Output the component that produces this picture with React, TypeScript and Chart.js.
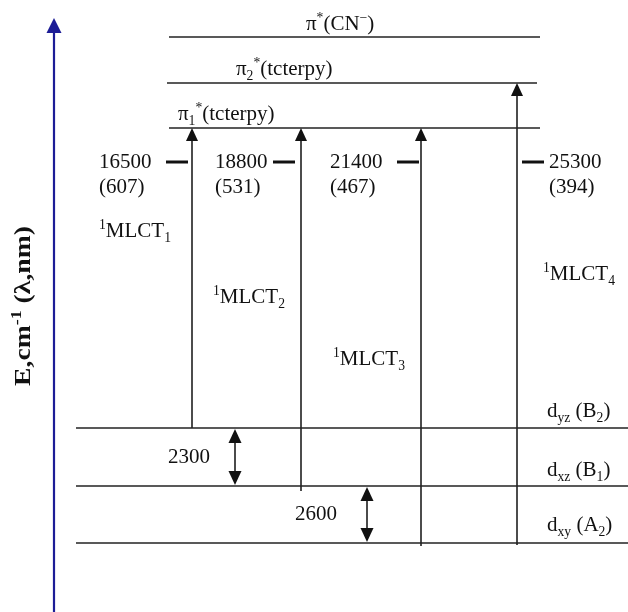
import React, { useEffect, useRef } from 'react';
import { Chart, registerables } from 'chart.js';

Chart.register(...registerables);

// ---- data (schematic energy-level diagram, arbitrary vertical units) ----
const levelNames = ['π^*(CN^−)', 'π_2^*(tcterpy)', 'π_1^*(tcterpy)', 'd_{yz} (B_2)', 'd_{xz} (B_1)', 'd_{xy} (A_2)'];
const levelEnergy = [575, 529, 484, 184, 126, 69];
const transitionNames = ['^1MLCT_1', '^1MLCT_2', '^1MLCT_3', '^1MLCT_4'];
const transitionWavenumbers = [16500, 18800, 21400, 25300];
const transitionWavelengths = [607, 531, 467, 394];
const transitionFrom = [3, 4, 5, 5];
const transitionTo = [2, 2, 2, 1];
const splittingValues = [2300, 2600];
const splittingLevels = [[3, 4], [4, 5]];
const axisTitle = 'E,cm^{-1} (λ,nm)';

// ---- layout (diagram coordinates) ----
const levelSpan = [[169, 540], [167, 537], [169, 540], [76, 628], [76, 628], [76, 628]];
const levelLabelPos = [[306, 582], [236, 537], [178, 492], [547, 195], [547, 136], [547, 81]];
const transitionColumn = [192, 301, 421, 517];
const transitionTail = [0, 5, 3, 2];
const markerSpan = [[166, 188], [273, 295], [397, 419], [522, 544]];
const markerY = 450;
const numberPos = [[99, 444], [215, 444], [330, 444], [549, 444]];
const wavelengthOffset = 25;
const transitionLabelPos = [[99, 375], [213, 309], [333, 247], [543, 332]];
const splittingColumn = [235, 367];
const splittingLabelPos = [[168, 149], [295, 92]];
const axisColumn = 54;
const axisTop = 594;
const titlePos = [22, 306];
const titleLength = 160;

const FONT = '"Liberation Serif", "Times New Roman", serif';
const INK = '#111';
const AXIS_BLUE = '#1c1c96';

type Seg = { t: string; m: number };
function parseRich(s: string): Seg[] {
  const segs: Seg[] = [];
  let buf = '';
  let i = 0;
  while (i < s.length) {
    const c = s[i];
    if (c === '^' || c === '_') {
      if (buf) { segs.push({ t: buf, m: 0 }); buf = ''; }
      let t = '';
      if (s[i + 1] === '{') {
        const j = s.indexOf('}', i + 2);
        t = s.slice(i + 2, j);
        i = j + 1;
      } else {
        t = s[i + 1];
        i += 2;
      }
      segs.push({ t, m: c === '^' ? 1 : -1 });
    } else {
      buf += c;
      i++;
    }
  }
  if (buf) segs.push({ t: buf, m: 0 });
  return segs;
}

function fontFor(size: number, m: number, bold: boolean) {
  const s = m === 0 ? size : size * 0.65;
  return `${bold ? 'bold ' : ''}${s}px ${FONT}`;
}

function richWidth(ctx: CanvasRenderingContext2D, s: string, size: number, bold: boolean) {
  let w = 0;
  for (const seg of parseRich(s)) {
    ctx.font = fontFor(size, seg.m, bold);
    w += ctx.measureText(seg.t).width;
  }
  return w;
}

function drawRich(ctx: CanvasRenderingContext2D, s: string, x: number, y: number, size: number, bold = false) {
  let cx = x;
  ctx.textBaseline = 'alphabetic';
  ctx.textAlign = 'left';
  for (const seg of parseRich(s)) {
    ctx.font = fontFor(size, seg.m, bold);
    const dy = seg.m === 1 ? -size * 0.38 : seg.m === -1 ? size * 0.22 : 0;
    ctx.fillText(seg.t, cx, y + dy);
    cx += ctx.measureText(seg.t).width;
  }
}

function arrowHead(ctx: CanvasRenderingContext2D, x: number, tipY: number, dir: number, w: number, h: number, color: string) {
  ctx.beginPath();
  ctx.moveTo(x, tipY);
  ctx.lineTo(x - w / 2, tipY + dir * h);
  ctx.lineTo(x + w / 2, tipY + dir * h);
  ctx.closePath();
  ctx.fillStyle = color;
  ctx.fill();
}

const diagramPlugin = {
  id: 'diagramDecor',
  afterDatasetsDraw(chart: any) {
    const ctx: CanvasRenderingContext2D = chart.ctx;
    const xs = chart.scales.x;
    const ys = chart.scales.y;
    const px = (v: number) => xs.getPixelForValue(v);
    const py = (v: number) => ys.getPixelForValue(v);
    ctx.save();
    arrowHead(ctx, px(axisColumn), py(axisTop), 1, 15, 15, AXIS_BLUE);
    transitionTo.forEach((to, i) => {
      arrowHead(ctx, px(transitionColumn[i]), py(levelEnergy[to]), 1, 12, 13, INK);
    });
    splittingLevels.forEach(([a, b], i) => {
      arrowHead(ctx, px(splittingColumn[i]), py(levelEnergy[a]) + 1, 1, 13, 14, INK);
      arrowHead(ctx, px(splittingColumn[i]), py(levelEnergy[b]) - 1, -1, 13, 14, INK);
    });
    ctx.fillStyle = INK;
    levelNames.forEach((n, i) => {
      drawRich(ctx, n, px(levelLabelPos[i][0]), py(levelLabelPos[i][1]), 21);
    });
    transitionWavenumbers.forEach((e, i) => {
      const x = px(numberPos[i][0]);
      const y = py(numberPos[i][1]);
      drawRich(ctx, String(e), x, y, 21);
      drawRich(ctx, `(${transitionWavelengths[i]})`, x, y + wavelengthOffset, 21);
      drawRich(ctx, transitionNames[i], px(transitionLabelPos[i][0]), py(transitionLabelPos[i][1]), 21);
    });
    splittingValues.forEach((v, i) => {
      drawRich(ctx, String(v), px(splittingLabelPos[i][0]), py(splittingLabelPos[i][1]), 21);
    });
    // axis title (rotated, stretched to the reference length)
    ctx.save();
    ctx.translate(px(titlePos[0]), py(titlePos[1]));
    ctx.rotate(-Math.PI / 2);
    const size = 24;
    const w = richWidth(ctx, axisTitle, size, true);
    ctx.scale(titleLength / w, 1);
    ctx.fillStyle = INK;
    drawRich(ctx, axisTitle, -w / 2, size * 0.34, size, true);
    ctx.restore();
    ctx.restore();
  },
};

export default function App() {
  const ref = useRef<HTMLCanvasElement | null>(null);
  useEffect(() => {
    document.body.style.margin = '0';
    if (!ref.current) return;
    const line = (pts: { x: number; y: number }[], color: string, width: number) => ({
      data: pts,
      showLine: true,
      borderColor: color,
      borderWidth: width,
      pointRadius: 0,
      fill: false,
    });
    const datasets: any[] = [];
    datasets.push(line([{ x: axisColumn, y: 0 }, { x: axisColumn, y: axisTop - 10 }], AXIS_BLUE, 2.2));
    levelEnergy.forEach((e, i) => {
      datasets.push(line([{ x: levelSpan[i][0], y: e }, { x: levelSpan[i][1], y: e }], '#222', 1.4));
    });
    transitionFrom.forEach((f, i) => {
      datasets.push(line([
        { x: transitionColumn[i], y: levelEnergy[f] - transitionTail[i] },
        { x: transitionColumn[i], y: levelEnergy[transitionTo[i]] - 6 },
      ], INK, 1.5));
    });
    markerSpan.forEach((s) => {
      datasets.push(line([{ x: s[0], y: markerY }, { x: s[1], y: markerY }], INK, 3));
    });
    splittingLevels.forEach(([a, b], i) => {
      datasets.push(line([
        { x: splittingColumn[i], y: levelEnergy[a] - 6 },
        { x: splittingColumn[i], y: levelEnergy[b] + 6 },
      ], INK, 1.5));
    });
    const chart = new Chart(ref.current, {
      type: 'scatter',
      data: { datasets },
      options: {
        responsive: false,
        animation: false,
        events: [],
        layout: { padding: 0 },
        plugins: { legend: { display: false }, tooltip: { enabled: false } },
        scales: {
          x: { type: 'linear', min: 0, max: 628, display: false },
          y: { type: 'linear', min: 0, max: 612, display: false },
        },
      },
      plugins: [diagramPlugin],
    });
    return () => chart.destroy();
  }, []);
  return (
    <div style={{ width: 628, height: 612, background: '#fff' }}>
      <canvas ref={ref} width={628} height={612} style={{ display: 'block' }} />
    </div>
  );
}
